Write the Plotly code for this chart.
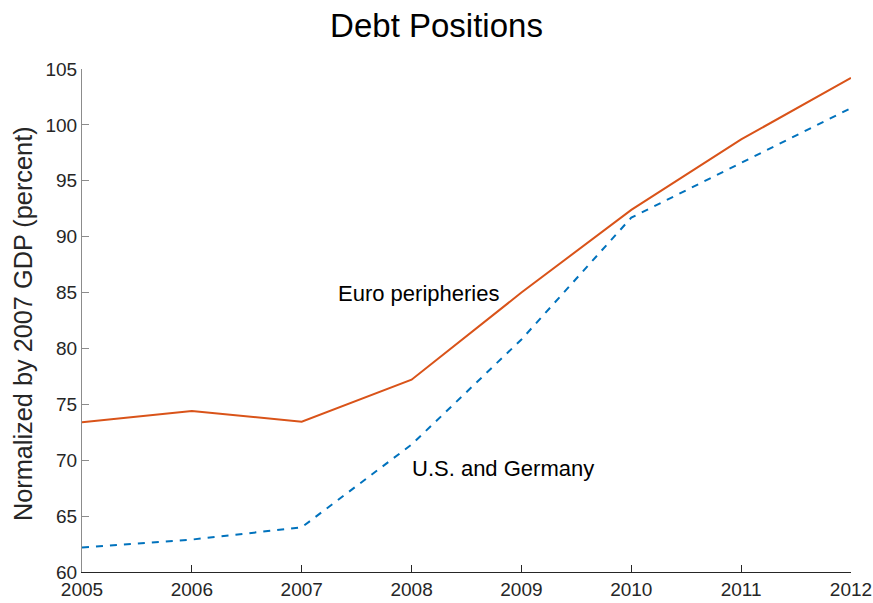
import plotly.graph_objects as go

years = [2005, 2006, 2007, 2008, 2009, 2010, 2011, 2012]
euro_peripheries = [73.4, 74.4, 73.45, 77.2, 85.0, 92.4, 98.7, 104.2]
us_germany = [62.2, 62.9, 64.0, 71.4, 80.8, 91.7, 96.6, 101.5]
y_ticks = [60, 65, 70, 75, 80, 85, 90, 95, 100, 105]

FONT = "Liberation Sans, Arial, Helvetica, sans-serif"

fig = go.Figure()
fig.add_trace(go.Scatter(x=years, y=euro_peripheries, mode="lines",
                         line=dict(color="#D95319", width=2), name="Euro peripheries"))
fig.add_trace(go.Scatter(x=years, y=us_germany, mode="lines",
                         line=dict(color="#0072BD", width=2, dash="7px,7px"), name="U.S. and Germany"))

fig.add_annotation(x=2007.31, y=84.95, text="Euro peripheries", showarrow=False,
                   xanchor="left", yanchor="middle", font=dict(size=22, color="#000000", family=FONT))
fig.add_annotation(x=2007.99, y=69.3, text="U.S. and Germany", showarrow=False,
                   xanchor="left", yanchor="middle", font=dict(size=22, color="#000000", family=FONT))
# y-axis title
fig.add_annotation(xref="paper", yref="paper", x=-0.0767, y=0.493,
                   text="Normalized by 2007 GDP (percent)", textangle=-90, showarrow=False,
                   xanchor="center", yanchor="middle",
                   font=dict(size=25.3, color="#262626", family=FONT))

fig.update_layout(
    width=873, height=603,
    margin=dict(l=82, r=22, t=69, b=31, autoexpand=False),
    plot_bgcolor="white", paper_bgcolor="white",
    showlegend=False,
    font=dict(family=FONT, color="#262626"),
    title=dict(text="Debt Positions", x=0.5, xanchor="center", y=0.958, yanchor="middle",
               font=dict(size=33, color="#000000", family=FONT)),
    xaxis=dict(range=[2005, 2012], tickvals=years, ticktext=[str(y) for y in years],
               automargin=False,
               showgrid=False, zeroline=False, showline=True, linecolor="#262626", linewidth=1,
               ticks="inside", ticklen=7, tickcolor="#262626",
               tickfont=dict(size=19, color="#262626")),
    yaxis=dict(range=[60, 105], tickvals=y_ticks, automargin=False,
               showgrid=False, zeroline=False, showline=True, linecolor="#8c8c8c", linewidth=1,
               ticks="inside", ticklen=7, tickcolor="#8c8c8c",
               tickfont=dict(size=19, color="#262626")),
)

fig.write_html("out.html", config={"displayModeBar": False},
               post_script="document.body.style.margin='0';document.body.style.overflow='hidden';")
